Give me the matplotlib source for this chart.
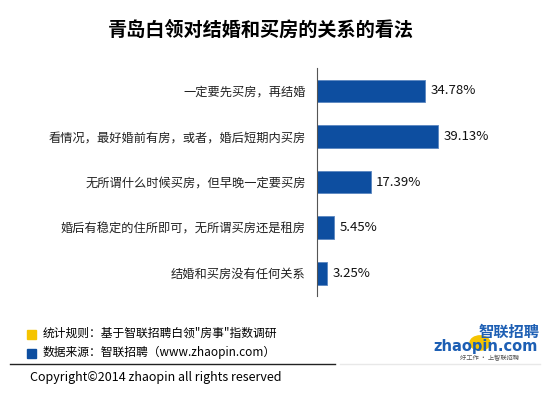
import matplotlib
matplotlib.use('Agg')
import matplotlib.pyplot as plt
from matplotlib.patches import Rectangle, Circle

plt.rcParams['font.family'] = ['Noto Sans CJK SC', 'DejaVu Sans']

categories = ['一定要先买房，再结婚',
              '看情况，最好婚前有房，或者，婚后短期内买房',
              '无所谓什么时候买房，但早晚一定要买房',
              '婚后有稳定的住所即可，无所谓买房还是租房',
              '结婚和买房没有任何关系']
values = [34.78, 39.13, 17.39, 5.45, 3.25]
value_labels = ['34.78%', '39.13%', '17.39%', '5.45%', '3.25%']

title = '青岛白领对结婚和买房的关系的看法'
note1 = '统计规则：基于智联招聘白领"房事"指数调研'
note2 = '数据来源：智联招聘（www.zhaopin.com）'
copyright_text = 'Copyright©2014 zhaopin all rights reserved'

bar_color = '#0D4EA0'

fig = plt.figure(figsize=(5.5, 3.94), dpi=100)
ax = fig.add_axes([0.576, 0.249, 0.40, 0.578])

ypos = list(range(len(categories)))
ax.barh(ypos, values, height=0.5, color=bar_color, edgecolor='#5a86c0', linewidth=0.6)
ax.set_ylim(len(categories) - 0.5, -0.5)
ax.set_xlim(0, 71)

for y, v, lab in zip(ypos, values, value_labels):
    ax.text(v + 1.8, y, lab, va='center', ha='left', fontsize=9.5, color='#111111')

ax.set_yticks(ypos)
ax.set_yticklabels(categories, fontsize=8.8, color='#222222')
ax.tick_params(axis='y', length=0, pad=8)
ax.set_xticks([])
for s in ['top', 'right', 'bottom']:
    ax.spines[s].set_visible(False)
ax.spines['left'].set_color('#555555')
ax.spines['left'].set_linewidth(0.8)

fig.text(0.475, 0.924, title, ha='center', va='center', fontsize=13.8, fontweight='bold')

# notes at the bottom
fig.patches.append(Rectangle((27 / 550, 1 - 339 / 394), 9 / 550, 9 / 394,
                             transform=fig.transFigure, color='#F5C400'))
fig.patches.append(Rectangle((27 / 550, 1 - 358 / 394), 9 / 550, 9 / 394,
                             transform=fig.transFigure, color='#0D4EA0'))
fig.text(43 / 550, 1 - 333 / 394, note1, ha='left', va='center', fontsize=8.5)
fig.text(43 / 550, 1 - 352 / 394, note2, ha='left', va='center', fontsize=8.5)

fig.add_artist(plt.Line2D([10 / 550, 335 / 550], [1 - 364 / 394] * 2,
                          transform=fig.transFigure, color='#222222', linewidth=1))
fig.add_artist(plt.Line2D([340 / 550, 540 / 550], [1 - 364 / 394] * 2,
                          transform=fig.transFigure, color='#e8e8e8', linewidth=1))
fig.text(30 / 550, 1 - 377 / 394, copyright_text, ha='left', va='center', fontsize=9)

# logo
fig.patches.append(Circle((480 / 550, 1 - 343 / 394), 10 / 550, transform=fig.transFigure,
                          color='#F5C400', zorder=1))
fig.text(540 / 550, 1 - 332 / 394, '智联招聘', ha='right', va='center', fontsize=11,
         fontweight='bold', color='#1D5FB4', zorder=3)
fig.text(538 / 550, 1 - 346 / 394, 'zhaopin.com', ha='right', va='center', fontsize=10.5,
         fontweight='bold', color='#1D5FB4', zorder=3, family='DejaVu Sans')
fig.text(490 / 550, 1 - 358 / 394, '好工作 · 上智联招聘', ha='center', va='center',
         fontsize=4.5, color='#555555')

fig.savefig('out.png', dpi=100)
